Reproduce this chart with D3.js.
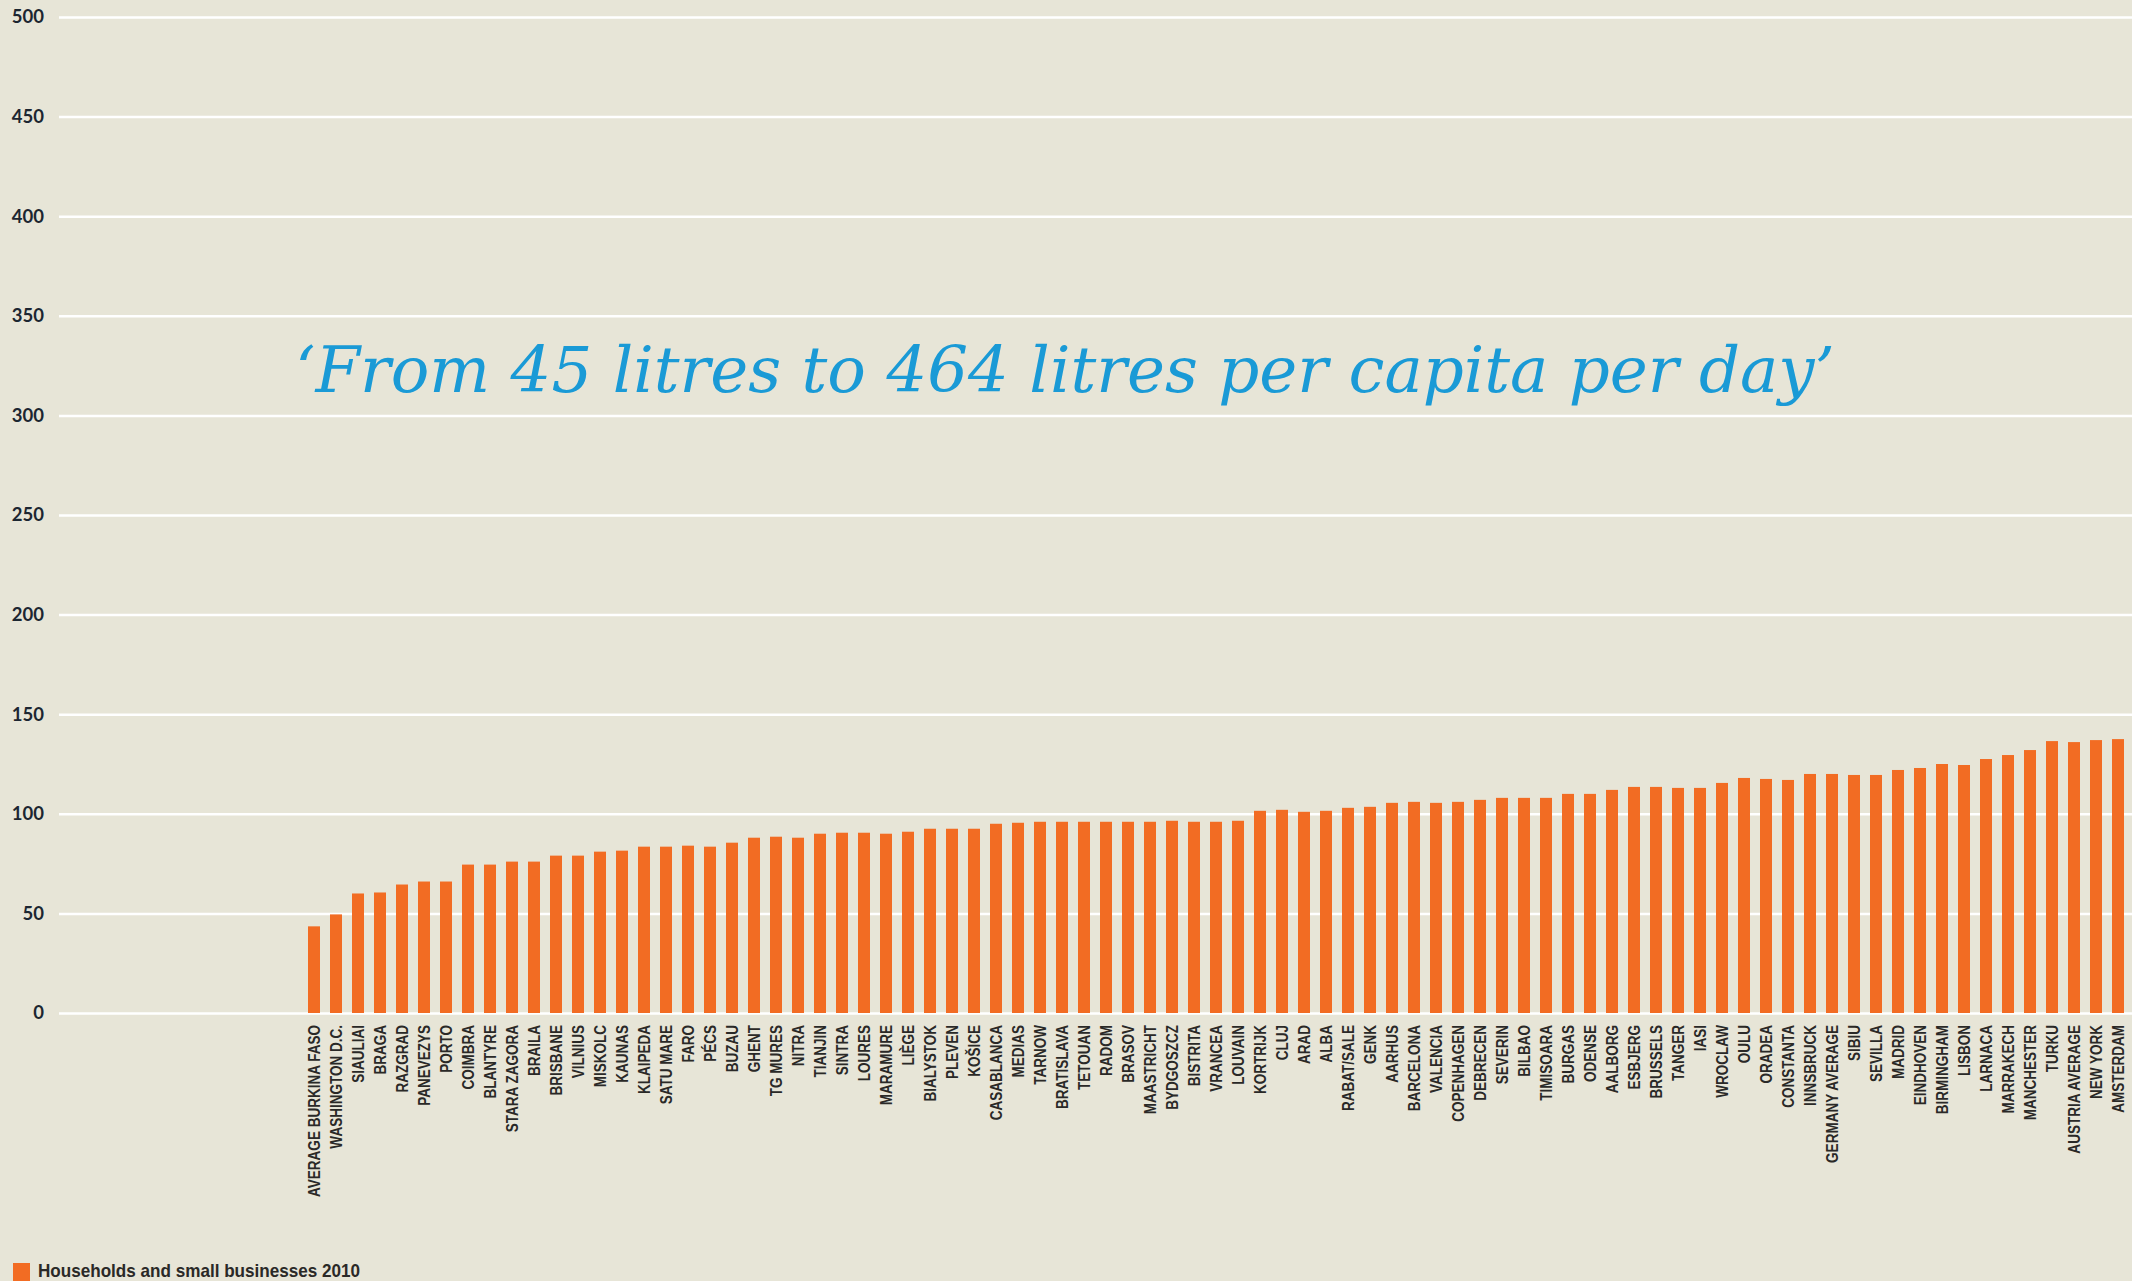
<!DOCTYPE html>
<html>
<head>
<meta charset="utf-8">
<script src="https://cdn.jsdelivr.net/npm/d3@7"></script>
<style>
  html, body { margin: 0; padding: 0; background: #e7e5d7; }
  svg { display: block; }
</style>
</head>
<body>
<svg id="chart" width="2132" height="1281"></svg>
<script>
const cities = [
  "AVERAGE BURKINA FASO", "WASHINGTON D.C.", "SIAULIAI", "BRAGA", "RAZGRAD", "PANEVEZYS", "PORTO",
  "COIMBRA", "BLANTYRE", "STARA ZAGORA", "BRAILA", "BRISBANE", "VILNIUS", "MISKOLC",
  "KAUNAS", "KLAIPEDA", "SATU MARE", "FARO", "PÉCS", "BUZAU", "GHENT", "TG MURES", "NITRA",
  "TIANJIN", "SINTRA", "LOURES", "MARAMURE", "LIÈGE",
  "BIALYSTOK", "PLEVEN", "KOŠICE", "CASABLANCA", "MEDIAS", "TARNOW", "BRATISLAVA", "TETOUAN",
  "RADOM", "BRASOV", "MAASTRICHT", "BYDGOSZCZ", "BISTRITA", "VRANCEA",
  "LOUVAIN", "KORTRIJK", "CLUJ", "ARAD", "ALBA", "RABAT/SALE", "GENK", "AARHUS", "BARCELONA",
  "VALENCIA", "COPENHAGEN", "DEBRECEN", "SEVERIN", "BILBAO",
  "TIMISOARA", "BURGAS", "ODENSE", "AALBORG", "ESBJERG", "BRUSSELS", "TANGER", "IASI",
  "WROCLAW", "OULU", "ORADEA", "CONSTANTA", "INNSBRUCK", "GERMANY AVERAGE",
  "SIBIU", "SEVILLA", "MADRID", "EINDHOVEN", "BIRMINGHAM", "LISBON", "LARNACA", "MARRAKECH",
  "MANCHESTER", "TURKU", "AUSTRIA AVERAGE", "NEW YORK", "AMSTERDAM"
];

const litres2010 = [
  43.5, 49.5, 60, 60.5, 64.5, 66, 66,
  74.5, 74.5, 76, 76, 79, 79, 81,
  81.5, 83.5, 83.5, 84, 83.5, 85.5, 88, 88.5, 88,
  90, 90.5, 90.5, 90, 91,
  92.5, 92.5, 92.5, 95, 95.5, 96, 96, 96,
  96, 96, 96, 96.5, 96, 96,
  96.5, 101.5, 102, 101, 101.5, 103, 103.5, 105.5, 106,
  105.5, 106, 107, 108, 108,
  108, 110, 110, 112, 113.5, 113.5, 113, 113,
  115.5, 118, 117.5, 117, 120, 120,
  119.5, 119.5, 122, 123, 125, 124.5, 127.5, 129.5,
  132, 136.5, 136, 137, 137.5
];

const yTicks = [0, 50, 100, 150, 200, 250, 300, 350, 400, 450, 500];
const titleText = "\u2018From 45 litres to 464 litres per capita per day\u2019";
const legendLabel = "Households and small businesses 2010";

const W = 2132, H = 1281;
const svg = d3.select("#chart");

svg.append("rect").attr("width", W).attr("height", H).attr("fill", "#e7e5d7");

const y = d3.scaleLinear().domain([0, 500]).range([1013, 17]);
const x = d3.scaleBand().domain(cities).range([303, 2129])
  .paddingInner(10 / 22).paddingOuter(5 / 22);

// Y axis with gridlines
const yAxis = d3.axisLeft(y).tickValues(yTicks).tickSize(2132 - 59).tickPadding(15);
const gy = svg.append("g").attr("transform", `translate(${W},0)`).call(yAxis);
gy.select(".domain").remove();
gy.selectAll(".tick line").attr("stroke", "#ffffff").attr("stroke-width", 2.5);
gy.selectAll(".tick text")
  .attr("font-family", "Lato, 'Open Sans', sans-serif")
  .attr("font-weight", 700)
  .attr("font-size", 18.5)
  .attr("fill", "#1c2631");

// Bars
svg.append("g").selectAll("rect")
  .data(cities)
  .join("rect")
  .attr("x", d => x(d))
  .attr("width", x.bandwidth())
  .attr("y", (d, i) => y(litres2010[i]))
  .attr("height", (d, i) => y(0) - y(litres2010[i]))
  .attr("fill", "#f26c23");

// X axis labels
const xAxis = d3.axisBottom(x).tickSize(0).tickPadding(0);
const gx = svg.append("g").attr("transform", `translate(0,${y(0)})`).call(xAxis);
gx.select(".domain").remove();
const labels = gx.selectAll(".tick text")
  .attr("font-family", "'Liberation Sans Narrow', 'Arial Narrow', sans-serif")
  .attr("font-weight", 700)
  .attr("font-size", 16.5)
  .attr("fill", "#2a2927")
  .attr("text-anchor", "end")
  .attr("x", -12)
  .attr("y", 0)
  .attr("dy", "0.36em");
// compress along the text direction so the longest label matches the reference length
const firstLen = labels.nodes()[0].getComputedTextLength();
const sx = firstLen > 0 ? 172 / firstLen : 1;
labels.attr("transform", `rotate(-90) scale(${sx},1)`)
  .attr("x", -12 / sx);

// Title
svg.append("text")
  .attr("x", 295)
  .attr("y", 392)
  .attr("font-family", "'DejaVu Serif', serif")
  .attr("font-style", "italic")
  .attr("font-size", 64)
  .attr("fill", "#1a9ad6")
  .attr("textLength", 1540)
  .attr("lengthAdjust", "spacingAndGlyphs")
  .text(titleText);

// Legend
svg.append("rect")
  .attr("x", 13).attr("y", 1263).attr("width", 17).attr("height", 18)
  .attr("fill", "#f26c23");
svg.append("text")
  .attr("x", 38).attr("y", 1277)
  .attr("font-family", "'Liberation Sans', Arial, sans-serif")
  .attr("font-weight", 700)
  .attr("font-size", 18.5)
  .attr("fill", "#2a2927")
  .attr("textLength", 322)
  .attr("lengthAdjust", "spacingAndGlyphs")
  .text(legendLabel);
</script>
</body>
</html>
